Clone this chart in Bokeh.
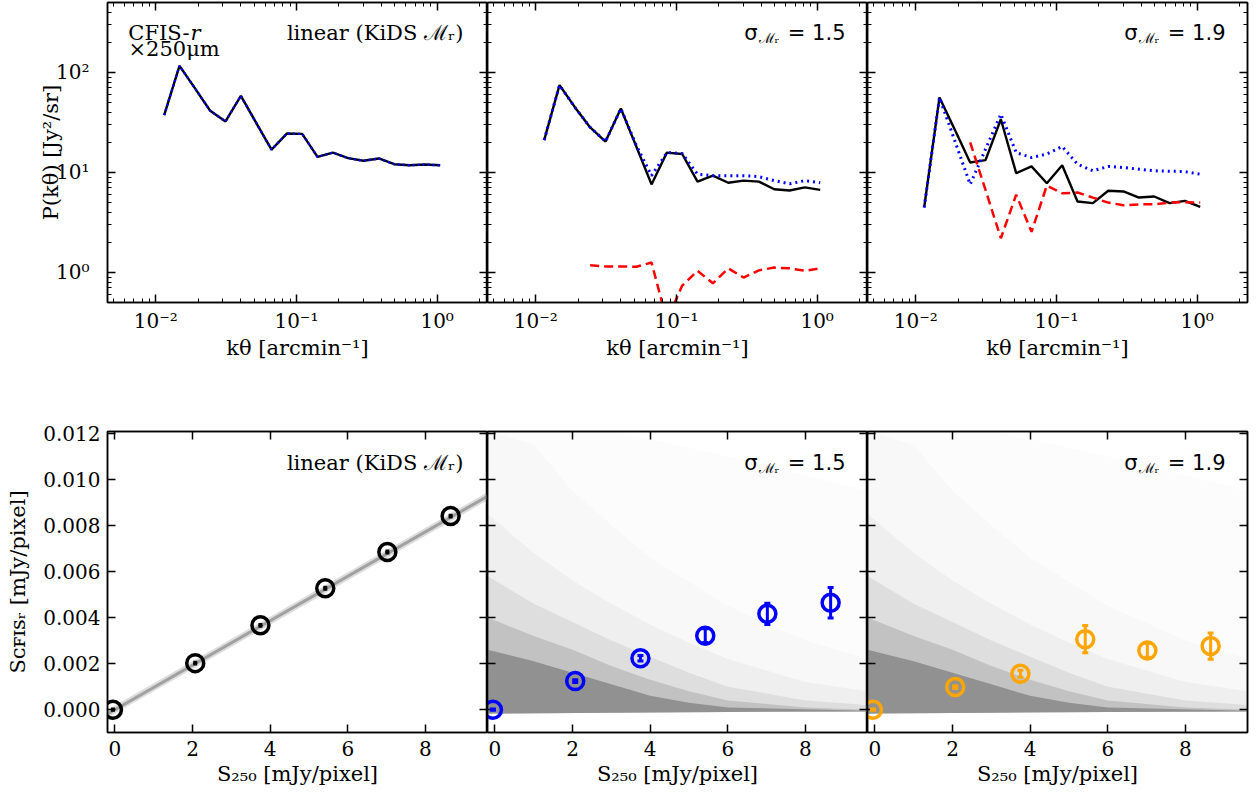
from bokeh.plotting import figure
from bokeh.layouts import row, column
from bokeh.models import (LogAxis, LinearAxis, FixedTicker, CustomJSTickFormatter,
                          NumeralTickFormatter, Label, Whisker, TeeHead,
                          ColumnDataSource, Range1d)
from bokeh.embed import file_html
from bokeh.resources import INLINE

# ---------------- data ----------------
k_theta = [0.01148, 0.01475, 0.01896, 0.02437, 0.03132, 0.04026, 0.05174, 0.0665,
           0.08547, 0.10986, 0.1412, 0.1815, 0.2333, 0.2998, 0.3853, 0.4953,
           0.6366, 0.8182, 1.0517]
k_theta_red = k_theta[3:]

pk_linear = [37.4, 116.6, 69.7, 41.4, 32.4, 58.4, 31.4, 16.9, 24.5, 24.3,
             14.3, 15.8, 13.9, 13.1, 13.8, 12.1, 11.8, 12.0, 11.8]

pk_s15_total = [21.1, 74.7, 45.0, 28.2, 20.4, 43.6, 18.3, 7.6, 15.8, 15.3,
                8.1, 9.3, 7.9, 8.3, 8.1, 6.8, 6.6, 7.1, 6.7]
pk_s15_dotted = [21.1, 74.7, 45.0, 28.2, 20.4, 43.6, 18.8, 9.3, 15.8, 15.5,
                 9.6, 9.3, 9.3, 9.3, 9.1, 8.3, 7.7, 8.3, 7.9]
pk_s15_dashed = [1.18, 1.15, 1.15, 1.14, 1.26, 0.33, 0.74, 1.04, 0.78, 1.10,
                 0.89, 1.05, 1.12, 1.10, 1.04, 1.10]

pk_s19_total = [4.47, 56.2, 26.7, 12.6, 13.3, 34.1, 9.85, 11.5, 7.8, 11.8,
                5.13, 4.94, 6.56, 6.46, 5.62, 5.75, 4.94, 5.2, 4.54]
pk_s19_dotted = [4.47, 56.2, 20.7, 7.6, 17.1, 38.3, 15.8, 14.1, 15.3, 18.2,
                 12.1, 10.4, 11.5, 11.2, 10.8, 10.4, 10.3, 10.2, 9.6]
pk_s19_dashed = [20.0, 6.7, 2.2, 6.0, 2.55, 7.4, 6.2, 6.3, 5.6, 5.0,
                 4.7, 4.8, 4.8, 5.0, 5.05, 5.0]

s250_bins = [-0.05, 2.07, 3.75, 5.42, 7.02, 8.65]
scfis_linear = [0.0, 0.00202, 0.00366, 0.00527, 0.00684, 0.00840]
err_linear = [0.00003, 0.00004, 0.00004, 0.00004, 0.00004, 0.00004]
scfis_s15 = [0.0, 0.00124, 0.00223, 0.00321, 0.00416, 0.00464]
err_s15 = [0.00003, 0.00006, 0.00012, 0.0003, 0.00046, 0.00066]
scfis_s19 = [0.0, 0.00098, 0.00156, 0.00306, 0.00257, 0.00276]
err_s19 = [0.00003, 0.00006, 0.00015, 0.00059, 0.0003, 0.00057]

fit_s250 = [-0.19, 9.6]
fit_scfis = [-0.00018, 0.00926]

# pixel cloud, drawn as density envelopes (upper edges), plus the common lower edge
cloud_base_x = [9.6, 6.0, 3.0, 0.0, -0.19]
cloud_base_y = [-0.00008, -0.0001, -0.00013, -0.00017, -0.00018]
cloud_l1_x = [-0.19, 3.0, 6.0, 9.6]
cloud_l1_y = [0.0121, 0.0121, 0.0110, 0.0095]
cloud_l2_x = [-0.19, 1.0, 2.0, 3.0, 4.0, 6.0, 8.0, 9.6]
cloud_l2_y = [0.0121, 0.0115, 0.0095, 0.0080, 0.0066, 0.0045, 0.0030, 0.0022]
cloud_l3_x = [-0.19, 1.0, 2.0, 3.0, 4.0, 5.0, 6.0, 8.0, 9.6]
cloud_l3_y = [0.0085, 0.0068, 0.0056, 0.0046, 0.0037, 0.0029, 0.0022, 0.0012, 0.0008]
cloud_l4_x = [-0.19, 1.0, 2.0, 3.0, 4.0, 5.0, 6.0, 8.0, 9.6]
cloud_l4_y = [0.0058, 0.0046, 0.0038, 0.0030, 0.0023, 0.0016, 0.0010, 0.0004, 0.0002]
cloud_l5_x = [-0.19, 1.0, 2.0, 3.0, 4.0, 5.0, 6.0, 8.0, 9.6]
cloud_l5_y = [0.0040, 0.0032, 0.0026, 0.0019, 0.0013, 0.0008, 0.0004, 0.0001, 0.0000]
cloud_l6_x = [-0.19, 1.0, 2.0, 3.0, 4.0, 5.0, 6.0, 9.6]
cloud_l6_y = [0.0026, 0.0021, 0.0016, 0.0011, 0.0006, 0.0003, 0.0001, -0.00005]
cloud_alpha = [0.025, 0.035, 0.07, 0.15, 0.3, 0.75]

# axis ticks
k_major = [0.01, 0.1, 1.0]
pk_major = [1.0, 10.0, 100.0]
log_minor = [m * 10.0 ** e for e in range(-4, 4) for m in range(2, 10)]
s250_ticks = [0, 2, 4, 6, 8]
scfis_ticks = [0.0, 0.002, 0.004, 0.006, 0.008, 0.010, 0.012]

SERIF = "DejaVu Serif"
SANS = "DejaVu Sans"
TICK_PX = "20px"
LABEL_PX = "21px"
TEXT_PX = "21px"

sup_code = """
const e = Math.round(Math.log10(tick));
const m = {"-":"\u207b","0":"\u2070","1":"\u00b9","2":"\u00b2","3":"\u00b3"};
return "10" + String(e).split("").map(c => m[c]).join("");
"""


def style_axis(ax, labels):
    ax.axis_line_color = "black"
    ax.axis_line_width = 1.5
    ax.major_tick_in = 8
    ax.major_tick_out = 0
    ax.minor_tick_in = 4
    ax.minor_tick_out = 0
    ax.major_tick_line_color = "black"
    ax.minor_tick_line_color = "black"
    ax.major_tick_line_width = 1.5
    ax.minor_tick_line_width = 1
    ax.axis_label_text_font = SERIF
    ax.axis_label_text_font_size = LABEL_PX
    ax.axis_label_text_font_style = "normal"
    ax.axis_label_text_color = "black"
    if labels:
        ax.major_label_text_font = SERIF
        ax.major_label_text_font_size = TICK_PX
        ax.major_label_text_color = "black"
    else:
        ax.formatter = CustomJSTickFormatter(code='return "";')
        ax.major_label_text_font_size = "1px"
        ax.major_label_standoff = 0


def make_fig(width, height, log, xr, yr, left_labels, mb_left, mb_right, mb_top, mb_bottom):
    p = figure(width=width, height=height,
               x_range=Range1d(*xr), y_range=Range1d(*yr),
               x_axis_type="log" if log else "linear",
               y_axis_type="log" if log else "linear",
               output_backend="svg", toolbar_location=None,
               min_border=0, min_border_left=mb_left, min_border_right=mb_right,
               min_border_top=mb_top, min_border_bottom=mb_bottom,
               background_fill_color="white", border_fill_color="white")
    p.grid.visible = False
    p.outline_line_color = "black"
    p.outline_line_width = 1.5
    Ax = LogAxis if log else LinearAxis
    p.add_layout(Ax(), "above")
    p.add_layout(Ax(), "right")
    if log:
        for ax in p.xaxis:
            ax.ticker = FixedTicker(ticks=k_major, minor_ticks=log_minor)
        for ax in p.yaxis:
            ax.ticker = FixedTicker(ticks=pk_major, minor_ticks=log_minor)
    else:
        for ax in p.xaxis:
            ax.ticker = FixedTicker(ticks=s250_ticks, minor_ticks=[])
        for ax in p.yaxis:
            ax.ticker = FixedTicker(ticks=scfis_ticks, minor_ticks=[])
    below = p.below[0]
    left = p.left[0]
    if log:
        below.formatter = CustomJSTickFormatter(code=sup_code)
        left.formatter = CustomJSTickFormatter(code=sup_code)
    else:
        left.formatter = NumeralTickFormatter(format="0.000")
    style_axis(below, True)
    style_axis(left, left_labels)
    style_axis(p.above[0], False)
    style_axis(p.right[0], False)
    if log:
        below.major_label_standoff = 6
        below.axis_label_standoff = 0
        if left_labels:
            left.major_label_standoff = 18
            left.axis_label_standoff = -10
    else:
        below.major_label_standoff = 8
        below.axis_label_standoff = 3
        if left_labels:
            left.major_label_standoff = 7
            left.axis_label_standoff = 10
    return p


def add_text(p, x, y, text, size=TEXT_PX, font=SERIF, style="normal", align="right"):
    p.add_layout(Label(x=x, y=y, x_units="screen", y_units="screen", text=text,
                       text_font=font, text_font_size=size, text_font_style=style,
                       text_align=align, text_baseline="alphabetic", text_color="black"))


def add_sigma(p, val):
    add_text(p, 270, 270, "\u03c3", font=SANS)
    add_text(p, 271, 265, "\u2133\u1d63", size="14px", font=SERIF, align="left")
    add_text(p, 358, 270, "= " + val, font=SANS)


K_RANGE = (0.00454, 2.28)
P_RANGE = (0.501, 501.0)
S_RANGE = (-0.19, 9.6)
C_RANGE = (-0.00099, 0.01207)

TOP_H = 410
BOT_H = 386

# ---------------- top row: power spectra ----------------
tl = make_fig(487, TOP_H, True, K_RANGE, P_RANGE, True, 107, 0, 2, 108)
tm = make_fig(380, TOP_H, True, K_RANGE, P_RANGE, False, 0, 0, 2, 108)
tr = make_fig(383, TOP_H, True, K_RANGE, P_RANGE, False, 0, 3, 2, 108)
for p in (tl, tm, tr):
    p.below[0].axis_label = "k\u03b8 [arcmin\u207b\u00b9]"
tl.left[0].axis_label = "P(k\u03b8) [Jy\u00b2/sr]"

tl.line(k_theta, pk_linear, line_color="black", line_width=2.4)
tl.line(k_theta, pk_linear, line_color="blue", line_width=2.4, line_dash="2 3")

tm.line(k_theta, pk_s15_total, line_color="black", line_width=2.4)
tm.line(k_theta, pk_s15_dotted, line_color="blue", line_width=3, line_dash="2 4")
tm.line(k_theta_red, pk_s15_dashed, line_color="red", line_width=2.5, line_dash="9 5")

tr.line(k_theta, pk_s19_total, line_color="black", line_width=2.4)
tr.line(k_theta, pk_s19_dotted, line_color="blue", line_width=3, line_dash="2 4")
tr.line(k_theta_red, pk_s19_dashed, line_color="red", line_width=2.5, line_dash="9 5")

add_text(tl, 356, 270, "linear (KiDS \u2133\u1d63)")
add_text(tl, 82, 270, "CFIS-", align="right")
add_text(tl, 83, 270, "r", style="italic", align="left")
add_text(tl, 21, 254, "\u00d7250\u03bcm", align="left")
add_sigma(tm, "1.5")
add_sigma(tr, "1.9")

# ---------------- bottom row: stacked fluxes ----------------
bl = make_fig(487, BOT_H, False, S_RANGE, C_RANGE, True, 107, 0, 21, 64)
bm = make_fig(380, BOT_H, False, S_RANGE, C_RANGE, False, 0, 0, 21, 64)
br = make_fig(383, BOT_H, False, S_RANGE, C_RANGE, False, 0, 3, 21, 64)
for p in (bl, bm, br):
    p.below[0].axis_label = "S\u2082\u2085\u2080 [mJy/pixel]"
bl.left[0].axis_label = "S\u1d04\ua730\u026a\ua731\u1d63 [mJy/pixel]"

layers = [(cloud_l1_x, cloud_l1_y), (cloud_l2_x, cloud_l2_y), (cloud_l3_x, cloud_l3_y),
          (cloud_l4_x, cloud_l4_y), (cloud_l5_x, cloud_l5_y), (cloud_l6_x, cloud_l6_y)]
for p in (bm, br):
    for (lx, ly), a in zip(layers, cloud_alpha):
        p.patch(lx + cloud_base_x, ly + cloud_base_y, fill_color="#808080",
                fill_alpha=a, line_color=None)

bl.line(fit_s250, fit_scfis, line_color="#909090", line_alpha=0.3, line_width=7)
bl.line(fit_s250, fit_scfis, line_color="#707070", line_alpha=0.55, line_width=3)


def add_points(p, ys, errs, color, cap):
    src = ColumnDataSource(dict(x=s250_bins, y=ys,
                                lo=[a - b for a, b in zip(ys, errs)],
                                up=[a + b for a, b in zip(ys, errs)]))
    p.add_layout(Whisker(base="x", lower="lo", upper="up", source=src,
                         line_color=color, line_width=3,
                         lower_head=TeeHead(size=cap, line_color=color, line_width=3),
                         upper_head=TeeHead(size=cap, line_color=color, line_width=3),
                         level="overlay"))
    p.scatter("x", "y", source=src, marker="circle", size=17, fill_color=None,
              line_color=color, line_width=3.5)


add_points(bl, scfis_linear, err_linear, "black", 4)
add_points(bm, scfis_s15, err_s15, "blue", 6)
add_points(br, scfis_s19, err_s19, "orange", 6)

add_text(bl, 356, 270, "linear (KiDS \u2133\u1d63)")
add_sigma(bm, "1.5")
add_sigma(br, "1.9")

layout = column(row(tl, tm, tr), row(bl, bm, br))
open("out.html", "w").write(file_html(layout, INLINE))
